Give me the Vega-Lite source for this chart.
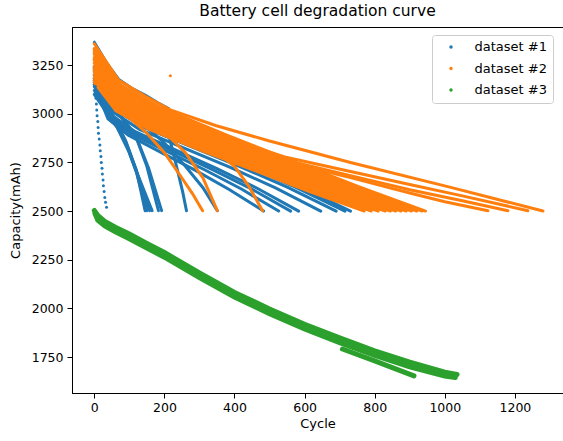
{
  "$schema": "https://vega.github.io/schema/vega-lite/v6.json",
  "width": 491,
  "height": 366,
  "autosize": {"type": "none"},
  "padding": {"left": 72, "top": 27, "right": 0, "bottom": 48},
  "background": "white",
  "title": {"text": "Battery cell degradation curve", "fontSize": 15.5, "fontWeight": "normal", "font": "DejaVu Sans", "offset": 8, "color": "#000", "anchor": "middle"},
  "config": {
    "view": {"stroke": "#000", "strokeWidth": 1},
    "axis": {"domainColor": "#000", "tickColor": "#000", "labelColor": "#000", "titleColor": "#000", "grid": false, "tickSize": 5, "labelFontSize": 12.5, "titleFontSize": 13, "titleFontWeight": "normal", "labelFont": "DejaVu Sans", "titleFont": "DejaVu Sans"},
    "legend": {"labelFont": "DejaVu Sans"}
  },
  "data": {"values": [
    {"dataset":"dataset #1","cell":"B1","cycle":0,"capacity":3368},{"dataset":"dataset #1","cell":"B1","cycle":35,"capacity":3262},{"dataset":"dataset #1","cell":"B1","cycle":69,"capacity":3178},{"dataset":"dataset #1","cell":"B1","cycle":110,"capacity":3128},{"dataset":"dataset #1","cell":"B1","cycle":146,"capacity":3095},{"dataset":"dataset #1","cell":"B1","cycle":180,"capacity":3058},{"dataset":"dataset #1","cell":"B1","cycle":212,"capacity":3027},
    {"dataset":"dataset #1","cell":"B2","cycle":3,"capacity":3140},{"dataset":"dataset #1","cell":"B2","cycle":4,"capacity":3110},{"dataset":"dataset #1","cell":"B2","cycle":5,"capacity":3080},{"dataset":"dataset #1","cell":"B2","cycle":6,"capacity":3050},{"dataset":"dataset #1","cell":"B2","cycle":7,"capacity":3020},{"dataset":"dataset #1","cell":"B2","cycle":8,"capacity":2990},{"dataset":"dataset #1","cell":"B2","cycle":10,"capacity":2960},{"dataset":"dataset #1","cell":"B2","cycle":11,"capacity":2930},{"dataset":"dataset #1","cell":"B2","cycle":12,"capacity":2900},{"dataset":"dataset #1","cell":"B2","cycle":14,"capacity":2870},{"dataset":"dataset #1","cell":"B2","cycle":16,"capacity":2840},{"dataset":"dataset #1","cell":"B2","cycle":17,"capacity":2810},{"dataset":"dataset #1","cell":"B2","cycle":19,"capacity":2780},{"dataset":"dataset #1","cell":"B2","cycle":20,"capacity":2750},{"dataset":"dataset #1","cell":"B2","cycle":22,"capacity":2720},{"dataset":"dataset #1","cell":"B2","cycle":23,"capacity":2690},{"dataset":"dataset #1","cell":"B2","cycle":25,"capacity":2660},{"dataset":"dataset #1","cell":"B2","cycle":26,"capacity":2630},{"dataset":"dataset #1","cell":"B2","cycle":28,"capacity":2600},{"dataset":"dataset #1","cell":"B2","cycle":30,"capacity":2570},{"dataset":"dataset #1","cell":"B2","cycle":32,"capacity":2545},{"dataset":"dataset #1","cell":"B2","cycle":35,"capacity":2520},
    {"dataset":"dataset #1","cell":"B3","cycle":211,"capacity":2900},{"dataset":"dataset #1","cell":"B3","cycle":225,"capacity":2800},{"dataset":"dataset #1","cell":"B3","cycle":240,"capacity":2690},{"dataset":"dataset #1","cell":"B3","cycle":252,"capacity":2600},{"dataset":"dataset #1","cell":"B3","cycle":263,"capacity":2502},
    {"dataset":"dataset #1","cell":"B4","cycle":0,"capacity":3150},{"dataset":"dataset #1","cell":"B4","cycle":30,"capacity":3060},{"dataset":"dataset #1","cell":"B4","cycle":60,"capacity":2970},{"dataset":"dataset #1","cell":"B4","cycle":90,"capacity":2860},{"dataset":"dataset #1","cell":"B4","cycle":120,"capacity":2710},{"dataset":"dataset #1","cell":"B4","cycle":145,"capacity":2502},
    {"dataset":"dataset #1","cell":"B5","cycle":0,"capacity":3140},{"dataset":"dataset #1","cell":"B5","cycle":30,"capacity":3050},{"dataset":"dataset #1","cell":"B5","cycle":60,"capacity":2960},{"dataset":"dataset #1","cell":"B5","cycle":90,"capacity":2850},{"dataset":"dataset #1","cell":"B5","cycle":120,"capacity":2700},{"dataset":"dataset #1","cell":"B5","cycle":150,"capacity":2502},
    {"dataset":"dataset #1","cell":"B6","cycle":0,"capacity":3120},{"dataset":"dataset #1","cell":"B6","cycle":30,"capacity":3040},{"dataset":"dataset #1","cell":"B6","cycle":60,"capacity":2950},{"dataset":"dataset #1","cell":"B6","cycle":95,"capacity":2830},{"dataset":"dataset #1","cell":"B6","cycle":125,"capacity":2680},{"dataset":"dataset #1","cell":"B6","cycle":158,"capacity":2502},
    {"dataset":"dataset #1","cell":"B7","cycle":0,"capacity":3100},{"dataset":"dataset #1","cell":"B7","cycle":30,"capacity":3020},{"dataset":"dataset #1","cell":"B7","cycle":65,"capacity":2930},{"dataset":"dataset #1","cell":"B7","cycle":100,"capacity":2800},{"dataset":"dataset #1","cell":"B7","cycle":130,"capacity":2660},{"dataset":"dataset #1","cell":"B7","cycle":165,"capacity":2502},
    {"dataset":"dataset #1","cell":"B8","cycle":0,"capacity":3180},{"dataset":"dataset #1","cell":"B8","cycle":40,"capacity":3070},{"dataset":"dataset #1","cell":"B8","cycle":80,"capacity":2980},{"dataset":"dataset #1","cell":"B8","cycle":117,"capacity":2890},{"dataset":"dataset #1","cell":"B8","cycle":150,"capacity":2730},{"dataset":"dataset #1","cell":"B8","cycle":183,"capacity":2502},
    {"dataset":"dataset #1","cell":"B9","cycle":0,"capacity":3170},{"dataset":"dataset #1","cell":"B9","cycle":40,"capacity":3060},{"dataset":"dataset #1","cell":"B9","cycle":80,"capacity":2975},{"dataset":"dataset #1","cell":"B9","cycle":120,"capacity":2880},{"dataset":"dataset #1","cell":"B9","cycle":155,"capacity":2720},{"dataset":"dataset #1","cell":"B9","cycle":192,"capacity":2502},
    {"dataset":"dataset #1","cell":"B10","cycle":0,"capacity":3240},{"dataset":"dataset #1","cell":"B10","cycle":50,"capacity":3100},{"dataset":"dataset #1","cell":"B10","cycle":100,"capacity":3010},{"dataset":"dataset #1","cell":"B10","cycle":150,"capacity":2930},{"dataset":"dataset #1","cell":"B10","cycle":200,"capacity":2850},{"dataset":"dataset #1","cell":"B10","cycle":260,"capacity":2730},{"dataset":"dataset #1","cell":"B10","cycle":310,"capacity":2620},{"dataset":"dataset #1","cell":"B10","cycle":351,"capacity":2502},
    {"dataset":"dataset #1","cell":"B11","cycle":0,"capacity":3150},{"dataset":"dataset #1","cell":"B11","cycle":39,"capacity":2974},{"dataset":"dataset #1","cell":"B11","cycle":97,"capacity":2890},{"dataset":"dataset #1","cell":"B11","cycle":193,"capacity":2799},{"dataset":"dataset #1","cell":"B11","cycle":290,"capacity":2708},{"dataset":"dataset #1","cell":"B11","cycle":386,"capacity":2610},{"dataset":"dataset #1","cell":"B11","cycle":483,"capacity":2500},
    {"dataset":"dataset #1","cell":"B12","cycle":0,"capacity":3160},{"dataset":"dataset #1","cell":"B12","cycle":42,"capacity":2982},{"dataset":"dataset #1","cell":"B12","cycle":105,"capacity":2896},{"dataset":"dataset #1","cell":"B12","cycle":210,"capacity":2804},{"dataset":"dataset #1","cell":"B12","cycle":316,"capacity":2711},{"dataset":"dataset #1","cell":"B12","cycle":421,"capacity":2612},{"dataset":"dataset #1","cell":"B12","cycle":526,"capacity":2500},
    {"dataset":"dataset #1","cell":"B13","cycle":0,"capacity":3170},{"dataset":"dataset #1","cell":"B13","cycle":45,"capacity":2989},{"dataset":"dataset #1","cell":"B13","cycle":112,"capacity":2902},{"dataset":"dataset #1","cell":"B13","cycle":224,"capacity":2808},{"dataset":"dataset #1","cell":"B13","cycle":336,"capacity":2714},{"dataset":"dataset #1","cell":"B13","cycle":448,"capacity":2614},{"dataset":"dataset #1","cell":"B13","cycle":560,"capacity":2500},
    {"dataset":"dataset #1","cell":"B14","cycle":0,"capacity":3180},{"dataset":"dataset #1","cell":"B14","cycle":47,"capacity":2996},{"dataset":"dataset #1","cell":"B14","cycle":117,"capacity":2908},{"dataset":"dataset #1","cell":"B14","cycle":233,"capacity":2813},{"dataset":"dataset #1","cell":"B14","cycle":350,"capacity":2718},{"dataset":"dataset #1","cell":"B14","cycle":466,"capacity":2616},{"dataset":"dataset #1","cell":"B14","cycle":583,"capacity":2500},
    {"dataset":"dataset #1","cell":"B15","cycle":0,"capacity":3200},{"dataset":"dataset #1","cell":"B15","cycle":52,"capacity":3011},{"dataset":"dataset #1","cell":"B15","cycle":129,"capacity":2920},{"dataset":"dataset #1","cell":"B15","cycle":258,"capacity":2822},{"dataset":"dataset #1","cell":"B15","cycle":388,"capacity":2724},{"dataset":"dataset #1","cell":"B15","cycle":517,"capacity":2619},{"dataset":"dataset #1","cell":"B15","cycle":646,"capacity":2500},
    {"dataset":"dataset #1","cell":"B16","cycle":0,"capacity":3220},{"dataset":"dataset #1","cell":"B16","cycle":55,"capacity":3026},{"dataset":"dataset #1","cell":"B16","cycle":138,"capacity":2932},{"dataset":"dataset #1","cell":"B16","cycle":276,"capacity":2831},{"dataset":"dataset #1","cell":"B16","cycle":414,"capacity":2730},{"dataset":"dataset #1","cell":"B16","cycle":552,"capacity":2622},{"dataset":"dataset #1","cell":"B16","cycle":690,"capacity":2500},
    {"dataset":"dataset #1","cell":"B17","cycle":0,"capacity":3230},{"dataset":"dataset #1","cell":"B17","cycle":57,"capacity":3033},{"dataset":"dataset #1","cell":"B17","cycle":143,"capacity":2938},{"dataset":"dataset #1","cell":"B17","cycle":286,"capacity":2836},{"dataset":"dataset #1","cell":"B17","cycle":429,"capacity":2734},{"dataset":"dataset #1","cell":"B17","cycle":572,"capacity":2624},{"dataset":"dataset #1","cell":"B17","cycle":715,"capacity":2500},
    {"dataset":"dataset #1","cell":"B18","cycle":0,"capacity":3240},{"dataset":"dataset #1","cell":"B18","cycle":58,"capacity":3040},{"dataset":"dataset #1","cell":"B18","cycle":146,"capacity":2944},{"dataset":"dataset #1","cell":"B18","cycle":292,"capacity":2840},{"dataset":"dataset #1","cell":"B18","cycle":439,"capacity":2737},{"dataset":"dataset #1","cell":"B18","cycle":585,"capacity":2626},{"dataset":"dataset #1","cell":"B18","cycle":731,"capacity":2500},

    {"dataset":"dataset #2","cell":"O1","cycle":0,"capacity":3360},{"dataset":"dataset #2","cell":"O1","cycle":69,"capacity":3173},{"dataset":"dataset #2","cell":"O1","cycle":146,"capacity":3090},{"dataset":"dataset #2","cell":"O1","cycle":217,"capacity":3020},{"dataset":"dataset #2","cell":"O1","cycle":346,"capacity":2940},{"dataset":"dataset #2","cell":"O1","cycle":500,"capacity":2860},{"dataset":"dataset #2","cell":"O1","cycle":731,"capacity":2750},{"dataset":"dataset #2","cell":"O1","cycle":1017,"capacity":2622},{"dataset":"dataset #2","cell":"O1","cycle":1280,"capacity":2500},
    {"dataset":"dataset #2","cell":"O2","cycle":0,"capacity":3335},{"dataset":"dataset #2","cell":"O2","cycle":70,"capacity":3155},{"dataset":"dataset #2","cell":"O2","cycle":150,"capacity":3055},{"dataset":"dataset #2","cell":"O2","cycle":250,"capacity":2970},{"dataset":"dataset #2","cell":"O2","cycle":400,"capacity":2860},{"dataset":"dataset #2","cell":"O2","cycle":550,"capacity":2775},{"dataset":"dataset #2","cell":"O2","cycle":731,"capacity":2703},{"dataset":"dataset #2","cell":"O2","cycle":900,"capacity":2637},{"dataset":"dataset #2","cell":"O2","cycle":1050,"capacity":2578},{"dataset":"dataset #2","cell":"O2","cycle":1237,"capacity":2502},
    {"dataset":"dataset #2","cell":"O3","cycle":0,"capacity":3320},{"dataset":"dataset #2","cell":"O3","cycle":70,"capacity":3145},{"dataset":"dataset #2","cell":"O3","cycle":150,"capacity":3045},{"dataset":"dataset #2","cell":"O3","cycle":250,"capacity":2960},{"dataset":"dataset #2","cell":"O3","cycle":400,"capacity":2848},{"dataset":"dataset #2","cell":"O3","cycle":550,"capacity":2760},{"dataset":"dataset #2","cell":"O3","cycle":731,"capacity":2682},{"dataset":"dataset #2","cell":"O3","cycle":900,"capacity":2610},{"dataset":"dataset #2","cell":"O3","cycle":1050,"capacity":2553},{"dataset":"dataset #2","cell":"O3","cycle":1180,"capacity":2502},
    {"dataset":"dataset #2","cell":"O4","cycle":0,"capacity":3305},{"dataset":"dataset #2","cell":"O4","cycle":70,"capacity":3135},{"dataset":"dataset #2","cell":"O4","cycle":150,"capacity":3035},{"dataset":"dataset #2","cell":"O4","cycle":250,"capacity":2950},{"dataset":"dataset #2","cell":"O4","cycle":400,"capacity":2838},{"dataset":"dataset #2","cell":"O4","cycle":550,"capacity":2750},{"dataset":"dataset #2","cell":"O4","cycle":731,"capacity":2672},{"dataset":"dataset #2","cell":"O4","cycle":900,"capacity":2593},{"dataset":"dataset #2","cell":"O4","cycle":1000,"capacity":2548},{"dataset":"dataset #2","cell":"O4","cycle":1123,"capacity":2502},
    {"dataset":"dataset #2","cell":"C0","cycle":0,"capacity":3330},{"dataset":"dataset #2","cell":"C0","cycle":76,"capacity":3147},{"dataset":"dataset #2","cell":"C0","cycle":189,"capacity":3031},{"dataset":"dataset #2","cell":"C0","cycle":378,"capacity":2890},{"dataset":"dataset #2","cell":"C0","cycle":567,"capacity":2757},{"dataset":"dataset #2","cell":"C0","cycle":756,"capacity":2624},{"dataset":"dataset #2","cell":"C0","cycle":945,"capacity":2500},
    {"dataset":"dataset #2","cell":"C1","cycle":0,"capacity":3310},{"dataset":"dataset #2","cell":"C1","cycle":75,"capacity":3132},{"dataset":"dataset #2","cell":"C1","cycle":187,"capacity":3018},{"dataset":"dataset #2","cell":"C1","cycle":374,"capacity":2881},{"dataset":"dataset #2","cell":"C1","cycle":561,"capacity":2751},{"dataset":"dataset #2","cell":"C1","cycle":748,"capacity":2621},{"dataset":"dataset #2","cell":"C1","cycle":935,"capacity":2500},
    {"dataset":"dataset #2","cell":"C2","cycle":0,"capacity":3290},{"dataset":"dataset #2","cell":"C2","cycle":74,"capacity":3116},{"dataset":"dataset #2","cell":"C2","cycle":184,"capacity":3006},{"dataset":"dataset #2","cell":"C2","cycle":368,"capacity":2871},{"dataset":"dataset #2","cell":"C2","cycle":552,"capacity":2745},{"dataset":"dataset #2","cell":"C2","cycle":736,"capacity":2618},{"dataset":"dataset #2","cell":"C2","cycle":920,"capacity":2500},
    {"dataset":"dataset #2","cell":"C3","cycle":0,"capacity":3275},{"dataset":"dataset #2","cell":"C3","cycle":72,"capacity":3104},{"dataset":"dataset #2","cell":"C3","cycle":181,"capacity":2996},{"dataset":"dataset #2","cell":"C3","cycle":362,"capacity":2864},{"dataset":"dataset #2","cell":"C3","cycle":543,"capacity":2740},{"dataset":"dataset #2","cell":"C3","cycle":724,"capacity":2616},{"dataset":"dataset #2","cell":"C3","cycle":905,"capacity":2500},
    {"dataset":"dataset #2","cell":"C4","cycle":0,"capacity":3260},{"dataset":"dataset #2","cell":"C4","cycle":71,"capacity":3093},{"dataset":"dataset #2","cell":"C4","cycle":178,"capacity":2986},{"dataset":"dataset #2","cell":"C4","cycle":356,"capacity":2857},{"dataset":"dataset #2","cell":"C4","cycle":534,"capacity":2736},{"dataset":"dataset #2","cell":"C4","cycle":712,"capacity":2614},{"dataset":"dataset #2","cell":"C4","cycle":890,"capacity":2500},
    {"dataset":"dataset #2","cell":"C5","cycle":0,"capacity":3245},{"dataset":"dataset #2","cell":"C5","cycle":70,"capacity":3081},{"dataset":"dataset #2","cell":"C5","cycle":175,"capacity":2977},{"dataset":"dataset #2","cell":"C5","cycle":350,"capacity":2850},{"dataset":"dataset #2","cell":"C5","cycle":525,"capacity":2731},{"dataset":"dataset #2","cell":"C5","cycle":700,"capacity":2612},{"dataset":"dataset #2","cell":"C5","cycle":875,"capacity":2500},
    {"dataset":"dataset #2","cell":"C6","cycle":0,"capacity":3230},{"dataset":"dataset #2","cell":"C6","cycle":69,"capacity":3069},{"dataset":"dataset #2","cell":"C6","cycle":172,"capacity":2967},{"dataset":"dataset #2","cell":"C6","cycle":344,"capacity":2843},{"dataset":"dataset #2","cell":"C6","cycle":516,"capacity":2726},{"dataset":"dataset #2","cell":"C6","cycle":688,"capacity":2609},{"dataset":"dataset #2","cell":"C6","cycle":860,"capacity":2500},
    {"dataset":"dataset #2","cell":"C7","cycle":0,"capacity":3215},{"dataset":"dataset #2","cell":"C7","cycle":68,"capacity":3058},{"dataset":"dataset #2","cell":"C7","cycle":169,"capacity":2958},{"dataset":"dataset #2","cell":"C7","cycle":338,"capacity":2836},{"dataset":"dataset #2","cell":"C7","cycle":507,"capacity":2722},{"dataset":"dataset #2","cell":"C7","cycle":676,"capacity":2607},{"dataset":"dataset #2","cell":"C7","cycle":845,"capacity":2500},
    {"dataset":"dataset #2","cell":"C8","cycle":0,"capacity":3200},{"dataset":"dataset #2","cell":"C8","cycle":66,"capacity":3046},{"dataset":"dataset #2","cell":"C8","cycle":166,"capacity":2948},{"dataset":"dataset #2","cell":"C8","cycle":332,"capacity":2829},{"dataset":"dataset #2","cell":"C8","cycle":498,"capacity":2717},{"dataset":"dataset #2","cell":"C8","cycle":664,"capacity":2605},{"dataset":"dataset #2","cell":"C8","cycle":830,"capacity":2500},
    {"dataset":"dataset #2","cell":"C9","cycle":0,"capacity":3185},{"dataset":"dataset #2","cell":"C9","cycle":65,"capacity":3034},{"dataset":"dataset #2","cell":"C9","cycle":162,"capacity":2938},{"dataset":"dataset #2","cell":"C9","cycle":324,"capacity":2822},{"dataset":"dataset #2","cell":"C9","cycle":486,"capacity":2712},{"dataset":"dataset #2","cell":"C9","cycle":648,"capacity":2603},{"dataset":"dataset #2","cell":"C9","cycle":810,"capacity":2500},
    {"dataset":"dataset #2","cell":"C10","cycle":0,"capacity":3170},{"dataset":"dataset #2","cell":"C10","cycle":63,"capacity":3023},{"dataset":"dataset #2","cell":"C10","cycle":158,"capacity":2929},{"dataset":"dataset #2","cell":"C10","cycle":316,"capacity":2815},{"dataset":"dataset #2","cell":"C10","cycle":474,"capacity":2708},{"dataset":"dataset #2","cell":"C10","cycle":632,"capacity":2600},{"dataset":"dataset #2","cell":"C10","cycle":790,"capacity":2500},
    {"dataset":"dataset #2","cell":"C11","cycle":0,"capacity":3160},{"dataset":"dataset #2","cell":"C11","cycle":62,"capacity":3015},{"dataset":"dataset #2","cell":"C11","cycle":154,"capacity":2922},{"dataset":"dataset #2","cell":"C11","cycle":308,"capacity":2810},{"dataset":"dataset #2","cell":"C11","cycle":462,"capacity":2705},{"dataset":"dataset #2","cell":"C11","cycle":616,"capacity":2599},{"dataset":"dataset #2","cell":"C11","cycle":770,"capacity":2500},
    {"dataset":"dataset #2","cell":"S1","cycle":0,"capacity":3230},{"dataset":"dataset #2","cell":"S1","cycle":50,"capacity":3080},{"dataset":"dataset #2","cell":"S1","cycle":100,"capacity":2980},{"dataset":"dataset #2","cell":"S1","cycle":150,"capacity":2900},{"dataset":"dataset #2","cell":"S1","cycle":200,"capacity":2800},{"dataset":"dataset #2","cell":"S1","cycle":250,"capacity":2670},{"dataset":"dataset #2","cell":"S1","cycle":280,"capacity":2590},{"dataset":"dataset #2","cell":"S1","cycle":309,"capacity":2502},
    {"dataset":"dataset #2","cell":"S2","cycle":0,"capacity":3280},{"dataset":"dataset #2","cell":"S2","cycle":50,"capacity":3130},{"dataset":"dataset #2","cell":"S2","cycle":100,"capacity":3040},{"dataset":"dataset #2","cell":"S2","cycle":150,"capacity":2970},{"dataset":"dataset #2","cell":"S2","cycle":200,"capacity":2905},{"dataset":"dataset #2","cell":"S2","cycle":260,"capacity":2800},{"dataset":"dataset #2","cell":"S2","cycle":310,"capacity":2670},{"dataset":"dataset #2","cell":"S2","cycle":351,"capacity":2502},
    {"dataset":"dataset #2","cell":"S3","cycle":0,"capacity":3280},{"dataset":"dataset #2","cell":"S3","cycle":100,"capacity":3050},{"dataset":"dataset #2","cell":"S3","cycle":200,"capacity":2930},{"dataset":"dataset #2","cell":"S3","cycle":300,"capacity":2840},{"dataset":"dataset #2","cell":"S3","cycle":360,"capacity":2786},{"dataset":"dataset #2","cell":"S3","cycle":400,"capacity":2730},{"dataset":"dataset #2","cell":"S3","cycle":440,"capacity":2630},{"dataset":"dataset #2","cell":"S3","cycle":480,"capacity":2502},
    {"dataset":"dataset #2","cell":"Oout","cycle":217,"capacity":3195},

    {"dataset":"dataset #3","cell":"G1","cycle":0,"capacity":2503},{"dataset":"dataset #3","cell":"G1","cycle":10,"capacity":2477},{"dataset":"dataset #3","cell":"G1","cycle":30,"capacity":2447},{"dataset":"dataset #3","cell":"G1","cycle":60,"capacity":2417},{"dataset":"dataset #3","cell":"G1","cycle":100,"capacity":2382},{"dataset":"dataset #3","cell":"G1","cycle":150,"capacity":2334},{"dataset":"dataset #3","cell":"G1","cycle":200,"capacity":2287},{"dataset":"dataset #3","cell":"G1","cycle":300,"capacity":2182},{"dataset":"dataset #3","cell":"G1","cycle":400,"capacity":2082},{"dataset":"dataset #3","cell":"G1","cycle":500,"capacity":1997},{"dataset":"dataset #3","cell":"G1","cycle":600,"capacity":1918},{"dataset":"dataset #3","cell":"G1","cycle":700,"capacity":1848},{"dataset":"dataset #3","cell":"G1","cycle":800,"capacity":1782},{"dataset":"dataset #3","cell":"G1","cycle":900,"capacity":1724},{"dataset":"dataset #3","cell":"G1","cycle":1000,"capacity":1672},{"dataset":"dataset #3","cell":"G1","cycle":1035,"capacity":1660},
    {"dataset":"dataset #3","cell":"G2","cycle":2,"capacity":2487},{"dataset":"dataset #3","cell":"G2","cycle":10,"capacity":2453},{"dataset":"dataset #3","cell":"G2","cycle":30,"capacity":2423},{"dataset":"dataset #3","cell":"G2","cycle":60,"capacity":2393},{"dataset":"dataset #3","cell":"G2","cycle":100,"capacity":2358},{"dataset":"dataset #3","cell":"G2","cycle":150,"capacity":2310},{"dataset":"dataset #3","cell":"G2","cycle":200,"capacity":2263},{"dataset":"dataset #3","cell":"G2","cycle":300,"capacity":2158},{"dataset":"dataset #3","cell":"G2","cycle":400,"capacity":2058},{"dataset":"dataset #3","cell":"G2","cycle":500,"capacity":1973},{"dataset":"dataset #3","cell":"G2","cycle":600,"capacity":1894},{"dataset":"dataset #3","cell":"G2","cycle":700,"capacity":1824},{"dataset":"dataset #3","cell":"G2","cycle":800,"capacity":1758},{"dataset":"dataset #3","cell":"G2","cycle":900,"capacity":1700},{"dataset":"dataset #3","cell":"G2","cycle":1000,"capacity":1652},{"dataset":"dataset #3","cell":"G2","cycle":1030,"capacity":1645},
    {"dataset":"dataset #3","cell":"G3","cycle":708,"capacity":1791},{"dataset":"dataset #3","cell":"G3","cycle":798,"capacity":1731},{"dataset":"dataset #3","cell":"G3","cycle":912,"capacity":1653}
  ]},
  "encoding": {
    "x": {"field": "cycle", "type": "quantitative", "scale": {"domain": [-63.6, 1337.2], "nice": false, "zero": false}, "axis": {"title": "Cycle", "format": "d", "values": [0, 200, 400, 600, 800, 1000, 1200], "labelPadding": 3, "titlePadding": 4}},
    "y": {"field": "capacity", "type": "quantitative", "scale": {"domain": [1565, 3446], "nice": false, "zero": false}, "axis": {"title": "Capacity(mAh)", "format": "d", "values": [1750, 2000, 2250, 2500, 2750, 3000, 3250], "labelPadding": 4, "titlePadding": 9}},
    "color": {"field": "dataset", "type": "nominal", "scale": {"domain": ["dataset #1", "dataset #2", "dataset #3"], "range": ["#1f77b4", "#ff7f0e", "#2ca02c"]},
      "legend": {"orient": "none", "legendX": 360, "legendY": 8, "title": null, "strokeColor": "#cccccc", "fillColor": "white", "cornerRadius": 3, "padding": 5.5, "labelFontSize": 13, "labelColor": "#000", "symbolType": "circle", "symbolSize": 4, "rowPadding": 7.5, "symbolOffset": 7, "labelOffset": 17,
        "encode": {"symbols": {"update": {"fill": {"scale": "color", "field": "value"}, "stroke": {"value": "transparent"}, "shape": {"value": "circle"}, "size": {"value": 4}, "opacity": {"value": 1}}}}}}
  },
  "layer": [
    {"transform": [{"filter": "datum.dataset == 'dataset #1' && datum.cell != 'B2'"}], "mark": {"type": "line", "strokeWidth": 3, "strokeCap": "round"}, "encoding": {"detail": {"field": "cell"}}},
    {"transform": [{"filter": "datum.dataset == 'dataset #2' && datum.cell != 'Oout'"}], "mark": {"type": "line", "strokeWidth": 3, "strokeCap": "round"}, "encoding": {"detail": {"field": "cell"}}},
    {"transform": [{"filter": "datum.dataset == 'dataset #3'"}], "mark": {"type": "line", "strokeWidth": 5, "strokeCap": "round"}, "encoding": {"detail": {"field": "cell"}}},
    {"transform": [{"filter": "datum.cell == 'B2' || datum.cell == 'Oout'"}], "mark": {"type": "point", "filled": true, "size": 9, "opacity": 1}}
  ]
}
